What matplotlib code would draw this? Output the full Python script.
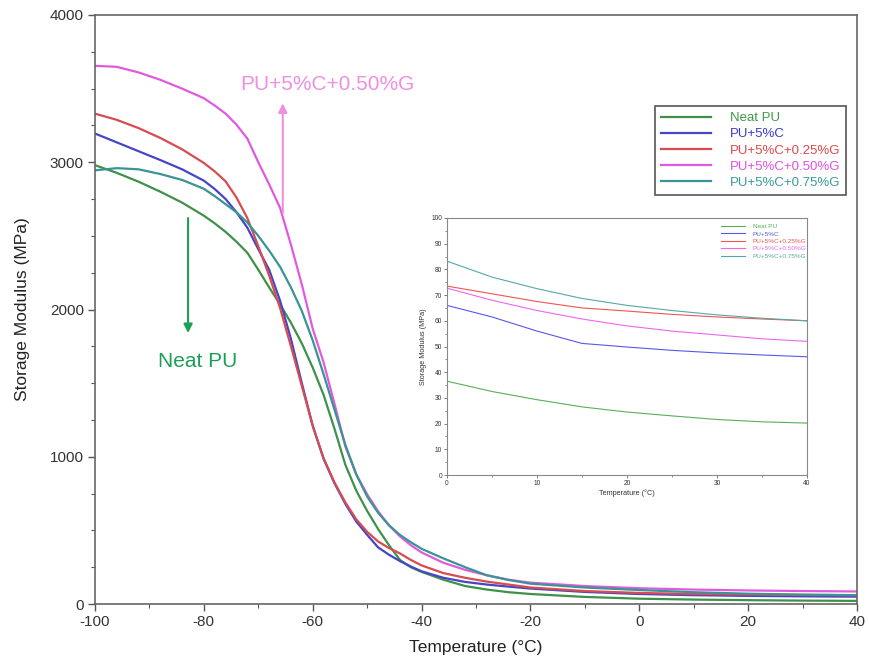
import matplotlib
matplotlib.use("Agg")
import matplotlib.pyplot as plt
from matplotlib.ticker import MultipleLocator

plt.rcParams["font.family"] = ["Liberation Sans", "DejaVu Sans"]
plt.rcParams["axes.unicode_minus"] = False

# ---- main DMA curves: storage modulus (MPa) vs temperature (°C) ----
temperature = [-100, -96, -92, -88, -84, -80, -78, -76, -74, -72, -70, -68, -66,
               -64, -62, -60, -58, -56, -54, -52, -50, -48, -46, -44, -42, -40,
               -36, -32, -28, -24, -20, -10, 0, 10, 20, 30, 40]

neat_pu = [2980, 2928, 2868, 2800, 2726, 2637, 2585, 2527, 2460, 2385, 2270, 2150,
           2035, 1910, 1770, 1605, 1420, 1190, 945, 770, 632, 510, 400, 300, 250,
           218, 165, 122, 98, 80, 68, 48, 36, 30, 26, 23, 21]
pu_5c = [3195, 3135, 3075, 3015, 2952, 2875, 2818, 2750, 2660, 2555, 2410, 2270,
         2060, 1800, 1500, 1210, 985, 820, 680, 560, 470, 385, 335, 292, 255, 222,
         178, 150, 132, 118, 105, 82, 68, 60, 55, 52, 50]
pu_5c_025g = [3330, 3288, 3232, 3165, 3088, 2995, 2938, 2870, 2760, 2620, 2430,
              2230, 2010, 1750, 1480, 1210, 990, 825, 690, 575, 490, 425, 380, 344,
              300, 262, 210, 178, 152, 132, 112, 88, 75, 68, 64, 61, 60]
pu_5c_050g = [3655, 3648, 3610, 3560, 3500, 3435, 3385, 3330, 3255, 3160, 3000,
              2850, 2690, 2440, 2170, 1870, 1640, 1360, 1070, 880, 745, 630, 535,
              460, 400, 350, 280, 232, 195, 165, 145, 122, 107, 98, 92, 88, 85]
pu_5c_075g = [2945, 2960, 2952, 2920, 2880, 2820, 2770, 2715, 2660, 2590, 2500,
              2400, 2290, 2150, 1990, 1790, 1560, 1320, 1080, 880, 730, 620, 535,
              470, 420, 375, 310, 250, 195, 163, 138, 112, 95, 80, 70, 64, 60]

# ---- inset: room-temperature region ----
inset_temperature = [0, 5, 10, 15, 20, 25, 30, 35, 40]
inset_neat_pu = [36.5, 32.5, 29.3, 26.5, 24.5, 23.0, 21.6, 20.7, 20.2]
inset_pu_5c = [66.0, 61.5, 56.0, 51.2, 49.8, 48.5, 47.5, 46.7, 46.0]
inset_pu_5c_025g = [73.5, 70.5, 67.5, 65.0, 63.8, 62.5, 61.5, 60.7, 60.0]
inset_pu_5c_050g = [72.7, 68.0, 64.0, 60.7, 58.0, 56.0, 54.5, 53.0, 52.0]
inset_pu_5c_075g = [83.2, 77.0, 72.5, 68.7, 66.0, 64.0, 62.3, 61.0, 60.0]

labels = ["Neat PU", "PU+5%C", "PU+5%C+0.25%G", "PU+5%C+0.50%G", "PU+5%C+0.75%G"]
main_colors = ["#3f914a", "#4545c8", "#d84b50", "#e05ae0", "#3a9494"]
inset_colors = ["#5aae5a", "#5757ee", "#ee5555", "#ee66ee", "#55a8a8"]
text_colors = ["#3f9a45", "#3a3ad0", "#e04848", "#e050e0", "#3a9a9a"]

fig = plt.figure(figsize=(8.69, 6.62), dpi=100)
ax = fig.add_axes([95 / 869, 1 - 604 / 662, 762 / 869, 589 / 662])

series = [neat_pu, pu_5c, pu_5c_025g, pu_5c_050g, pu_5c_075g]
for vals, lab, col in zip(series, labels, main_colors):
    ax.plot(temperature, vals, color=col, lw=1.6, label=lab)

ax.set_xlim(-100, 40)
ax.set_ylim(0, 4000)
ax.xaxis.set_major_locator(MultipleLocator(20))
ax.xaxis.set_minor_locator(MultipleLocator(10))
ax.yaxis.set_major_locator(MultipleLocator(1000))
ax.yaxis.set_minor_locator(MultipleLocator(250))
ax.tick_params(which="major", direction="out", length=5, width=1.0,
               color="#555555", labelsize=11, labelcolor="#333333", pad=3)
ax.tick_params(which="minor", direction="out", length=3, width=0.8, color="#555555")
for s in ax.spines.values():
    s.set_color("#666666")
    s.set_linewidth(1.2)
ax.set_xlabel("Temperature (°C)", fontsize=12.5, color="#222222", labelpad=8)
ax.set_ylabel("Storage Modulus (MPa)", fontsize=12.5, color="#222222", labelpad=14)

leg = ax.legend(loc="upper left", bbox_to_anchor=(0.735, 0.8455), fontsize=9.5,
                handlelength=3.8, handletextpad=1.4, labelspacing=0.3,
                borderpad=0.45, borderaxespad=0, fancybox=False, framealpha=1)
leg.get_frame().set_edgecolor("#555555")
leg.get_frame().set_linewidth(1.2)
for txt, col in zip(leg.get_texts(), text_colors):
    txt.set_color(col)

# arrows pointing out the stiffest and the neat sample
ax.annotate("", xy=(-65.5, 3400), xytext=(-65.5, 2655),
            arrowprops=dict(arrowstyle="-|>", color="#f08ee0", lw=1.5,
                            mutation_scale=13, shrinkA=0, shrinkB=0))
ax.text(-73.4, 3531, "PU+5%C+0.50%G", color="#f08ee0", fontsize=15,
        va="center", ha="left")
ax.annotate("", xy=(-82.9, 1840), xytext=(-82.9, 2621),
            arrowprops=dict(arrowstyle="-|>", color="#1aa055", lw=1.5,
                            mutation_scale=13, shrinkA=0, shrinkB=0))
ax.text(-88.4, 1650, "Neat PU", color="#1aa055", fontsize=15,
        va="center", ha="left")

# inset
axi = fig.add_axes([447 / 869, 1 - 475 / 662, 360 / 869, 257 / 662])
inset_series = [inset_neat_pu, inset_pu_5c, inset_pu_5c_025g, inset_pu_5c_050g,
                inset_pu_5c_075g]
for vals, lab, col in zip(inset_series, labels, inset_colors):
    axi.plot(inset_temperature, vals, color=col, lw=0.8, label=lab)
axi.set_xlim(0, 40)
axi.set_ylim(0, 100)
axi.xaxis.set_major_locator(MultipleLocator(10))
axi.xaxis.set_minor_locator(MultipleLocator(5))
axi.yaxis.set_major_locator(MultipleLocator(10))
axi.yaxis.set_minor_locator(MultipleLocator(5))
axi.tick_params(which="major", direction="out", length=2, width=0.6,
                color="#666666", labelsize=4.8, labelcolor="#333333", pad=1.5)
axi.tick_params(which="minor", direction="out", length=1.2, width=0.5,
                color="#666666")
for s in axi.spines.values():
    s.set_color("#888888")
    s.set_linewidth(0.8)
axi.set_xlabel("Temperature (°C)", fontsize=5.2, color="#333333", labelpad=2)
axi.set_ylabel("Storage Modulus (MPa)", fontsize=5.2, color="#333333", labelpad=3)
ileg = axi.legend(loc="upper left", bbox_to_anchor=(0.745, 1.0), fontsize=4.6,
                  handlelength=3.8, handletextpad=1.2, labelspacing=0.3,
                  frameon=False, borderpad=0.4)
for txt, col in zip(ileg.get_texts(), inset_colors):
    txt.set_color(col)

fig.savefig("out.png", dpi=100)
